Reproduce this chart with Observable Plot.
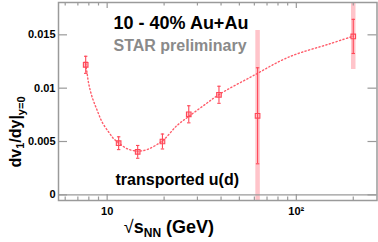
<!DOCTYPE html>
<html><head><meta charset="utf-8">
<script src="https://cdn.jsdelivr.net/npm/d3@7"></script>
<script src="https://cdn.jsdelivr.net/npm/@observablehq/plot@0.6"></script>
<style>body{margin:0;background:#fff}</style>
</head><body><div id="chart"></div>
<script>
// Data
const energies = [7.7, 11.5, 14.5, 19.6, 27, 39, 62.4, 200];
const dv1dy    = [0.01219, 0.00484, 0.00403, 0.0050, 0.00755, 0.00938, 0.00741, 0.01485];
const statErr  = [0.0008, 0.0006, 0.0006, 0.0007, 0.0008, 0.0008, 0.0045, 0.0016];
const sysErr   = [0.0003, 0.0002, 0.0002, 0.0002, 0.0002, 0.0002, 0.0080, 0.0031];
// dotted fit curve
const fitX = [7.7, 7.84, 7.99, 8.33, 8.86, 9.41, 10.2, 10.84, 11.57, 12.76, 14.5, 16.27, 19.67, 23.4, 27, 32.4, 39.1, 59.5, 91, 151, 200];
const fitY = [0.01229, 0.01135, 0.01041, 0.00916, 0.00791, 0.00681, 0.00587, 0.00525, 0.00484, 0.00432, 0.0041, 0.00425, 0.00509, 0.0065, 0.00735, 0.00838, 0.00941, 0.01119, 0.01291, 0.01417, 0.01487];
const yTickValues = [0, 0.005, 0.01, 0.015];
const yTickLabels = ["0", "0.005", "0.01", "0.015"];
const xMajorTicks = [10, 100];
const xMajorLabels = ["10", "10\u00b2"];
const xMinorTicks = [6, 7, 8, 9, 20, 30, 40, 50, 60, 70, 80, 90, 200];
const titleText = "10 - 40% Au+Au";
const starText = "STAR preliminary";
const speciesText = "transported u(d)";

const W = 378, H = 242, mL = 58, mR = 1.5, mT = 2, mB = 42;
const pw = W - mL - mR, ph = H - mT - mB;
const red = "#ff4858", pink = "#ffc4ca", gray = "#9a9a9a", curveRed = "#ff5c6a";
const font = "'Liberation Sans', Arial, Helvetica, sans-serif";

const pts = energies.map((x, i) => ({x, y: dv1dy[i], s: statErr[i], sy: sysErr[i]}));
const fit = fitX.map((x, i) => ({x, y: fitY[i]}));
const capSymbol = {draw(ctx, size) { const r = Math.sqrt(size / Math.PI); ctx.moveTo(-r, 0); ctx.lineTo(r, 0); }};

const chart = Plot.plot({
  width: W, height: H, marginLeft: mL, marginRight: mR, marginTop: mT, marginBottom: mB,
  style: {fontFamily: font, fontWeight: "bold", fontSize: "11px", background: "white", color: "black"},
  x: {type: "log", domain: [5.53, 267]},
  y: {domain: [-0.00053, 0.01803]},
  marks: [
    Plot.ruleX(pts, {x: "x", y1: d => d.y - d.sy, y2: d => d.y + d.sy, stroke: pink, strokeWidth: 4.5, clip: true}),
    Plot.line(fit, {x: "x", y: "y", curve: "catmull-rom", stroke: curveRed, strokeWidth: 1.4, strokeDasharray: "1.2 2.4"}),
    Plot.ruleX(pts, {x: "x", y1: d => d.y - d.s, y2: d => d.y + d.s, stroke: red, strokeWidth: 1.1}),
    Plot.dot(pts, {x: "x", y: d => d.y - d.s, symbol: capSymbol, r: 1.7, stroke: red, strokeWidth: 1.1}),
    Plot.dot(pts, {x: "x", y: d => d.y + d.s, symbol: capSymbol, r: 1.7, stroke: red, strokeWidth: 1.1}),
    Plot.dot(pts, {x: "x", y: "y", symbol: "square", r: 2.6, stroke: red, fill: "none", strokeWidth: 1.1}),
    Plot.ruleY([0], {stroke: gray, strokeWidth: 1.2}),
    // inward ticks
    Plot.tickY(yTickValues, {y: d => d, stroke: gray, strokeWidth: 1.2, insetRight: pw - 9}),
    Plot.tickY(yTickValues, {y: d => d, stroke: gray, strokeWidth: 1.2, insetLeft: pw - 9}),
    Plot.tickX(xMajorTicks, {x: d => d, stroke: gray, strokeWidth: 1.2, insetTop: ph - 6}),
    Plot.tickX(xMajorTicks, {x: d => d, stroke: gray, strokeWidth: 1.2, insetBottom: ph - 6}),
    Plot.tickX(xMinorTicks, {x: d => d, stroke: gray, strokeWidth: 1.2, insetTop: ph - 3.5}),
    Plot.tickX(xMinorTicks, {x: d => d, stroke: gray, strokeWidth: 1.2, insetBottom: ph - 3.5}),
    Plot.frame({stroke: gray, strokeWidth: 1.5}),
    Plot.axisY(yTickValues, {tickSize: 0, tickPadding: 3, label: null, fontSize: 11, fontWeight: "bold",
      tickFormat: d => yTickLabels[yTickValues.indexOf(d)]}),
    Plot.axisX(xMajorTicks, {tickSize: 0, tickPadding: 7, label: null, fontSize: 11, fontWeight: "bold",
      tickFormat: d => xMajorLabels[xMajorTicks.indexOf(d)]}),
    Plot.text([titleText], {text: d => d, frameAnchor: "top-left", dx: 113 - mL, dy: 28 - mT, textAnchor: "start", lineAnchor: "bottom", fontSize: 18, fontWeight: "bold", fill: "black"}),
    Plot.text([starText], {text: d => d, frameAnchor: "top-left", dx: 113 - mL, dy: 50 - mT, textAnchor: "start", lineAnchor: "bottom", fontSize: 16, fontWeight: "bold", fill: "#8a8a8a"}),
    Plot.text([speciesText], {text: d => d, frameAnchor: "top-left", dx: 115 - mL, dy: 184 - mT, textAnchor: "start", lineAnchor: "bottom", fontSize: 16, fontWeight: "bold", fill: "black"})
  ]
});

const svg = d3.select(chart);
// y axis label
const yl = svg.append("text").attr("transform", "translate(20.5,132) rotate(-90)")
  .attr("font-size", 16).attr("font-weight", "bold").attr("font-family", font).attr("fill", "black");
yl.append("tspan").text("dv");
yl.append("tspan").attr("font-size", 11).attr("dy", 3).text("1");
yl.append("tspan").attr("dy", -3).text("/dy|");
yl.append("tspan").attr("font-size", 11).attr("dy", 4).text("y=0");
// x axis label
const xl = svg.append("text").attr("x", 169).attr("y", 233)
  .attr("font-size", 18).attr("font-weight", "bold").attr("font-family", font).attr("fill", "black");
xl.append("tspan").attr("font-weight", "normal").text("\u221a");
xl.append("tspan").text("s");
xl.append("tspan").attr("font-size", 12).attr("dy", 4).text("NN");
xl.append("tspan").attr("dy", -4).text(" (GeV)");

document.getElementById("chart").append(chart);
</script>
</body></html>
